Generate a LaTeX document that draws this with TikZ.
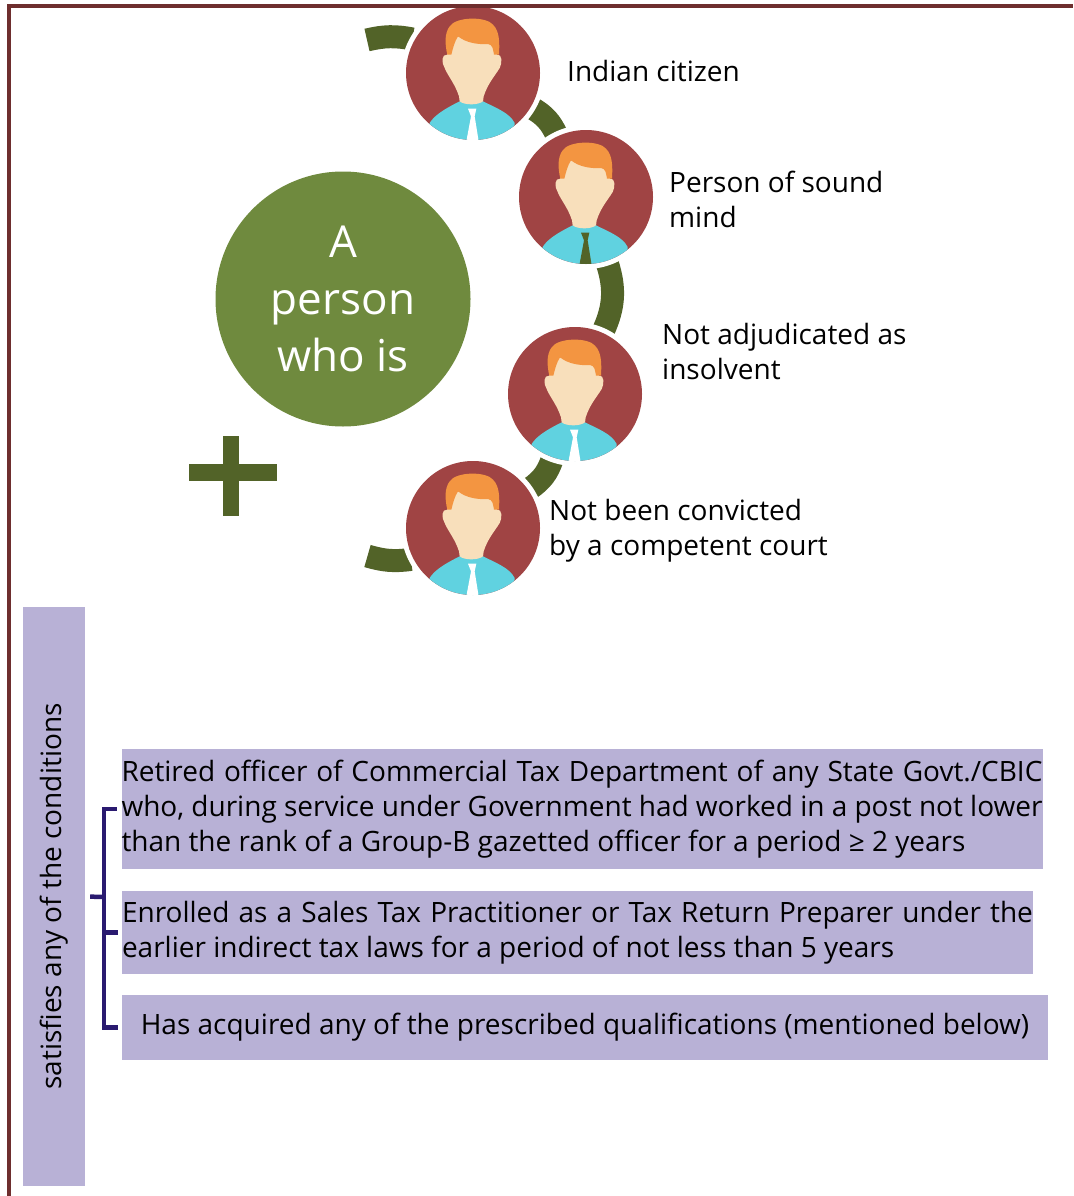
\documentclass[tikz,border=0pt]{standalone}
\usepackage{fontspec}
\setmainfont{Open Sans}
\usepackage{tikz}
\usetikzlibrary{backgrounds}
\definecolor{framered}{HTML}{6E2E2E}
\definecolor{discred}{HTML}{A04444}
\definecolor{hairorange}{HTML}{F39541}
\definecolor{skintone}{HTML}{F8DFBB}
\definecolor{shirtblue}{HTML}{60D2E0}
\definecolor{leafgreen}{HTML}{6F8A3E}
\definecolor{linkgreen}{HTML}{526328}
\definecolor{boxlilac}{HTML}{B8B1D6}
\definecolor{bracenavy}{HTML}{2A1A70}
\begin{document}
\begin{tikzpicture}[x=1pt,y=-1pt,
		V/.style = {circle, minimum size=139pt, inner sep=0pt, outer sep=0pt, draw=white, line width=5pt},
		L/.style = {anchor=west, align=left, inner sep=0pt, font=\fontsize{28}{35}\selectfont},
		B/.style = {rectangle, fill=boxlilac, inner sep=0pt, font=\fontsize{28}{35}\selectfont},
		link/.style = {draw=linkgreen, line width=23pt},
		brace/.style = {draw=bracenavy, line width=4.5pt},
		pics/person/.style = {code={
			\fill[discred] (0,0) circle (201);
			\begin{scope}
				\clip (0,0) circle (201);
				\fill[shirtblue] (-130,150) .. controls (-115,125) and (-80,105) .. (-40,85)
					-- (30,85) .. controls (70,105) and (110,120) .. (125,150)
					-- (125,230) -- (-130,230) -- cycle;
				\fill[#1] (-15,107) -- (10,107) -- (5,130) -- (17,205) -- (17,230) -- (-20,230) -- (-20,205) -- (-6,130) -- cycle;
			\end{scope}
			\fill[skintone] (-65,-110) -- (60,-110) -- (72,-55) .. controls (88,-58) and (88,-30) .. (80,-15)
				.. controls (65,10) and (45,30) .. (32,70) -- (30,85)
				.. controls (15,97) and (-25,97) .. (-40,85) -- (-42,70)
				.. controls (-55,30) and (-75,10) .. (-85,-15)
				.. controls (-95,-30) and (-95,-58) .. (-77,-55) -- cycle;
			\fill[hairorange] (-77,-55) .. controls (-85,-90) and (-85,-120) .. (-70,-140)
				.. controls (-50,-170) and (40,-170) .. (60,-145)
				.. controls (80,-125) and (80,-90) .. (78,-55) -- (63,-55)
				.. controls (60,-70) and (60,-85) .. (45,-87)
				.. controls (15,-85) and (-20,-90) .. (-45,-110)
				.. controls (-55,-95) and (-60,-75) .. (-65,-55) -- cycle;
		}}
		]
		\useasboundingbox (0,0) rectangle (1073,1196);
		
		\node (1) [V] at (473,73) {};
		\node (2) [V] at (586,197) {};
		\node (3) [V] at (575,394) {};
		\node (4) [V] at (473,528) {};
		\coordinate (5) at (367,40);
		\coordinate (6) at (367.5,556);
		
		\pic[scale=1/3] at (1) {person=white};
		\pic[scale=1/3] at (2) {person=linkgreen};
		\pic[scale=1/3] at (3) {person=white};
		\pic[scale=1/3] at (4) {person=white};
		
		\begin{scope}[on background layer]
			\draw (5) edge[link, bend left=12] (1);
			\draw (1) edge[link, bend left=17] (2);
			\draw (2) edge[link, bend left=21] (3);
			\draw (3) edge[link, bend left=18] (4);
			\draw (4) edge[link, bend left=12] (6);
		\end{scope}
		
		\node (7) [circle, fill=leafgreen, minimum size=255pt, inner sep=0pt, align=center, text=white, font=\fontsize{44}{57}\selectfont] at (343,299) {A\\person\\who is};
		
		\node (8) [L] at (567,71) {Indian citizen};
		\node (9) [L] at (669,199.5) {Person of sound\\mind};
		\node (10) [L] at (662,351) {Not adjudicated as\\insolvent};
		\node (11) [L] at (549,530.5) {Not been convicted\\by a competent court};
		
		\fill[linkgreen] (223,436) rectangle (239,516);
		\fill[linkgreen] (189,464) rectangle (277,481);
		
		\node (12) [B, rotate=90, minimum width=579pt, minimum height=62pt] at (54,896.5) {satisfies any of the conditions};
		
		\node (13) [B, text width=921pt, minimum height=120pt, align=justify] at (582,809) {Retired officer of Commercial Tax Department of any State Govt./CBIC\linebreak who, during service under Government had worked in a post not lower\linebreak than the rank of a Group-B gazetted officer for a period ≥ 2 years};
		\node (14) [B, text width=911pt, minimum height=83pt, align=justify] at (577.5,932.5) {Enrolled as a Sales Tax Practitioner or Tax Return Preparer under the\linebreak earlier indirect tax laws for a period of not less than 5 years};
		\node (15) [B, minimum width=926pt, minimum height=65pt] at (585,1027.5) {Has acquired any of the prescribed qualifications (mentioned below)};
		
		\coordinate (16) at (104,897);
		\draw[brace, shorten <=5pt] (12.south) -- (16);
		\draw[brace, shorten >=4pt] (16) |- (13.west);
		\draw[brace, shorten >=4pt] (16) |- (14.west);
		\draw[brace, shorten >=4pt] (16) |- (15.west);
		
		\draw[draw=framered, line width=3.5pt] (9,1196) -- (9,6) -- (1073,6);
	\end{tikzpicture}
\end{document}
